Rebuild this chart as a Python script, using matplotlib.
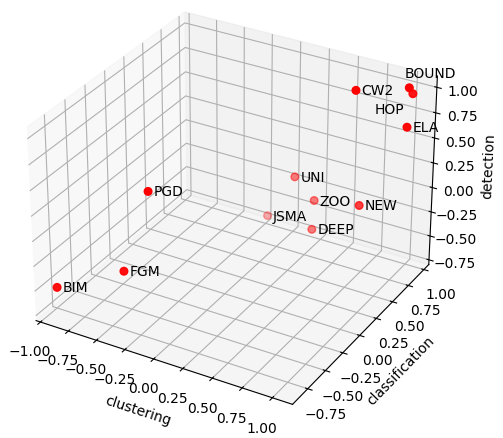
import matplotlib
matplotlib.use('Agg')
import matplotlib.pyplot as plt
from matplotlib.transforms import offset_copy

# scores of each attack method
names = ['BIM', 'FGM', 'PGD', 'JSMA', 'DEEP', 'ZOO', 'UNI', 'NEW', 'CW2', 'BOUND', 'HOP', 'ELA']
clustering = [-0.91, -0.50, -0.45, -0.16, 0.315, 0.285, 0.105, 0.765, 0.70, 1.04, 1.02, 1.08]
classification = [-0.86, -0.59, -0.33, 0.88, 0.75, 0.83, 0.84, 0.67, 0.69, 0.88, 0.98, 0.79]
detection = [-0.48, -0.35, 0.30, -0.61, -0.51, -0.27, -0.09, -0.06, 1.05, 1.07, 0.95, 0.75]

# label offsets (points) for the overlapping ones
lab_dx = {'BOUND': -3.5, 'HOP': -6.5}
lab_dy = {'BOUND': 5.5, 'HOP': -11}
lab_ha = {'HOP': 'right'}
lab_va = {'BOUND': 'bottom'}

fig = plt.figure(figsize=(5.03, 4.39), dpi=100)
ax = fig.add_axes([-0.063, 0.011, 1.04, 1.04], projection='3d')
ax.scatter(clustering, classification, detection, c='r', s=30)

for i, n in enumerate(names):
    tr = offset_copy(ax.transData, fig=fig, x=lab_dx.get(n, 4), y=lab_dy.get(n, 0), units='points')
    ax.text(clustering[i], classification[i], detection[i], n, transform=tr,
            ha=lab_ha.get(n, 'left'), va=lab_va.get(n, 'center'))

ax.set_xlim(-1.04, 1.165)
ax.set_ylim(-0.96, 1.08)
ax.set_zlim(-0.80, 1.11)
ax.set_xlabel('clustering')
ax.set_ylabel('classification')
ax.set_zlabel('detection')

fig.savefig('out.png', dpi=100)
